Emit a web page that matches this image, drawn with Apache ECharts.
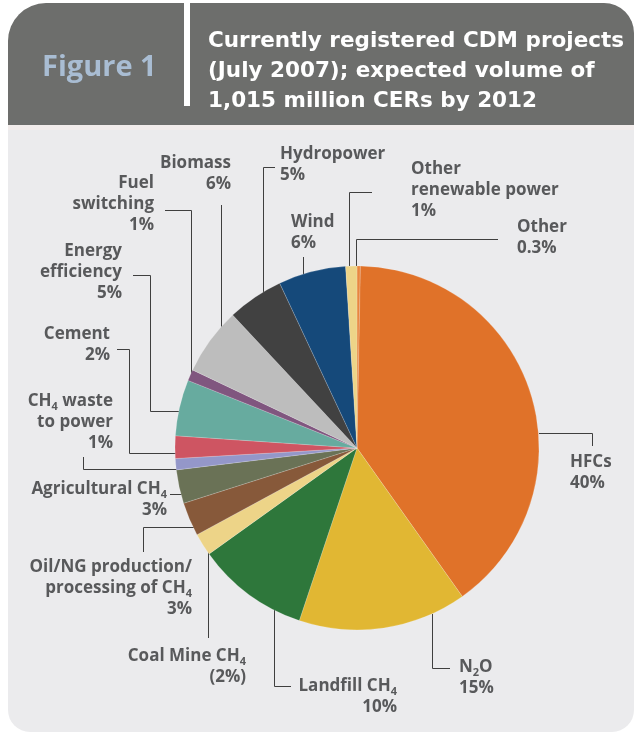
<!DOCTYPE html>
<html><head><meta charset="utf-8">
<script src="https://cdn.jsdelivr.net/npm/echarts@6/dist/echarts.min.js"></script>
<style>html,body{margin:0;padding:0;background:#fff;}#c{width:634px;height:736px;}</style>
</head><body><div id="c"></div>
<script>
// ---- data ----
const categories = ['Other', 'HFCs', 'N2O', 'Landfill CH4', 'Coal Mine CH4',
  'Oil/NG production/\nprocessing of CH4', 'Agricultural CH4', 'CH4 waste\nto power',
  'Cement', 'Energy\nefficiency', 'Fuel\nswitching', 'Biomass', 'Hydropower', 'Wind',
  'Other\nrenewable power'];
const shares = [0.3, 40, 15, 10, 2, 3, 3, 1, 2, 5, 1, 6, 5, 6, 1];
const figureLabel = 'Figure 1';
const titleLines = ['Currently registered CDM projects', '(July 2007); expected volume of', '1,015 million CERs by 2012'];

// ---- styles / layout ----
const colors = ['#E8873F', '#E07229', '#E1B733', '#2E773B', '#EDD488', '#87593A', '#6A7256',
  '#9497C9', '#CE5562', '#67AB9F', '#80567F', '#BDBDBD', '#414141', '#15497A', '#EDD488'];
const labelAlign = ['left','left','left','right','right','right','right','right','right','right','right','right','left','left','left'];
const labelX = [517, 570, 459, 397, 246, 192, 167, 113, 110, 122, 154, 231, 280, 291, 411];
const labelTop = [217, 452, 657, 676, 646, 557, 479, 391, 324, 241, 173, 153, 144, 212, 159];
const leaderLines = [
  [[498,239.5],[356.5,239.5],[356.5,266]],
  [[539,433.5],[592.5,433.5],[592.5,446]],
  [[432.5,614],[432.5,668.5],[450,668.5]],
  [[274.5,609],[274.5,686.5],[291,686.5]],
  [[208.5,551],[208.5,638]],
  [[143.5,552],[143.5,527.5],[194,527.5]],
  [[170,494.5],[182,494.5]],
  [[83.5,457],[83.5,469.5],[177,469.5]],
  [[117,349.5],[129.5,349.5],[129.5,453.5],[176,453.5]],
  [[133,275.5],[150.5,275.5],[150.5,411.5],[180,411.5]],
  [[165,210.5],[191.5,210.5],[191.5,376]],
  [[221.5,205],[221.5,328]],
  [[275,167.5],[263.5,167.5],[263.5,293]],
  [[303.5,257],[303.5,275]],
  [[372,192.5],[349.5,192.5],[349.5,266]]
];
const LABEL_COLOR = '#58595B';
const FONT = '"Open Sans", Lato, sans-serif';
const TITLE_FONT = '"DejaVu Sans", "Open Sans", sans-serif';

const chart = echarts.init(document.getElementById('c'), null, {renderer: 'canvas'});

function fmt(p) {
  const name = p.name.replace(/CH4/g, 'CH{sub|4}').replace('N2O', 'N{sub|2}O');
  const pct = p.name.indexOf('Coal') === 0 ? '(' + p.value + '%)' : p.value + '%';
  return name + '\n' + pct;
}

const graphics = [
  {type: 'rect', shape: {x: 8, y: 3, width: 626, height: 124, r: [38, 30, 0, 0]}, style: {fill: '#6D6E6C'}, z: 0},
  {type: 'rect', shape: {x: 8, y: 125, width: 626, height: 607, r: [0, 0, 22, 22]}, style: {fill: '#EBEBED'}, z: 0},
  {type: 'rect', shape: {x: 8, y: 125, width: 626, height: 5}, style: {fill: '#F2ECEB'}, z: 0},
  {type: 'rect', shape: {x: 184, y: 0, width: 6, height: 106}, style: {fill: '#FFFFFF'}, z: 1},
  {type: 'text', x: 42, y: 68, style: {text: figureLabel, fill: '#A9BDD3', font: '700 29px ' + FONT, textVerticalAlign: 'middle'}, z: 1}
];
titleLines.forEach((t, i) => {
  graphics.push({type: 'text', x: 208, y: 41 + i * 30, style: {text: t, fill: '#FFFFFF', font: '700 21.5px ' + TITLE_FONT, textVerticalAlign: 'middle'}, z: 1});
});

chart.setOption({
  animation: false,
  backgroundColor: 'transparent',
  graphic: graphics,
  series: [{
    type: 'pie',
    center: [357, 448],
    radius: 182,
    startAngle: 90,
    clockwise: true,
    avoidLabelOverlap: false,
    silent: true,
    itemStyle: {borderColor: 'rgba(255,255,255,0.35)', borderWidth: 0.5},
    label: {
      show: true,
      position: 'outside',
      formatter: fmt,
      color: LABEL_COLOR,
      fontFamily: FONT,
      fontWeight: 700,
      fontSize: 17,
      lineHeight: 21,
      overflow: 'none',
      rich: {
        sub: {fontSize: 11, lineHeight: 12, fontWeight: 700, color: LABEL_COLOR, fontFamily: FONT, verticalAlign: 'bottom'}
      }
    },
    labelLine: {show: true, smooth: false, lineStyle: {color: '#3F3F3F', width: 1}},
    labelLayout: function (p) {
      const i = p.dataIndex;
      return {
        x: labelX[i], y: labelTop[i], align: labelAlign[i], verticalAlign: 'top',
        labelLinePoints: leaderLines[i]
      };
    },
    data: categories.map((c, i) => ({name: c, value: shares[i], itemStyle: {color: colors[i]}}))
  }]
});
</script></body></html>
